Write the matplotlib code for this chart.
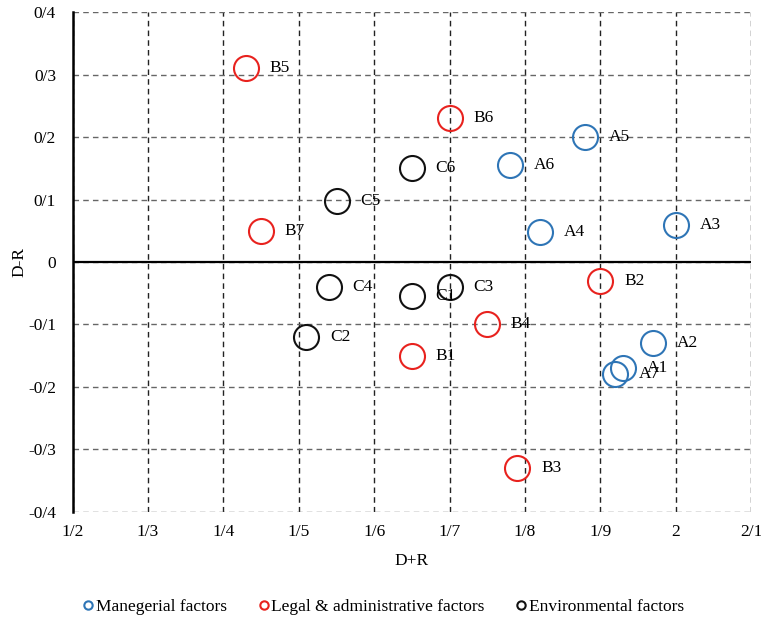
import matplotlib
matplotlib.use('Agg')
import matplotlib.pyplot as plt
from matplotlib.ticker import FuncFormatter, MultipleLocator
from matplotlib.lines import Line2D

# factor groups: (name, D+R, D-R)
mgmt_names = ['A1', 'A2', 'A3', 'A4', 'A5', 'A6', 'A7']
mgmt_x = [1.93, 1.97, 2.00, 1.82, 1.88, 1.78, 1.92]
mgmt_y = [-0.17, -0.13, 0.06, 0.048, 0.20, 0.155, -0.18]

legal_names = ['B1', 'B2', 'B3', 'B4', 'B5', 'B6', 'B7']
legal_x = [1.65, 1.90, 1.79, 1.75, 1.43, 1.70, 1.45]
legal_y = [-0.15, -0.03, -0.33, -0.10, 0.31, 0.23, 0.05]

env_names = ['C1', 'C2', 'C3', 'C4', 'C5', 'C6']
env_x = [1.65, 1.51, 1.70, 1.54, 1.55, 1.65]
env_y = [-0.055, -0.12, -0.04, -0.04, 0.098, 0.15]

groups = [
    ('Manegerial factors', mgmt_names, mgmt_x, mgmt_y, '#2E75B6'),
    ('Legal & administrative factors', legal_names, legal_x, legal_y, '#E8221E'),
    ('Environmental factors', env_names, env_x, env_y, '#111111'),
]

plt.rcParams['font.family'] = ['Liberation Serif', 'DejaVu Serif']
plt.rcParams['font.size'] = 12


def slash_fmt(v, pos):
    s = '%g' % round(v, 3)
    if s == '-0':
        s = '0'
    return s.replace('.', '/')


fig = plt.figure(figsize=(7.61, 6.22), dpi=100)
ax = fig.add_axes([0.0955, 0.1773, 0.8915, 0.8029])

ax.set_xlim(1.2, 2.1)
ax.set_ylim(-0.4, 0.4)
ax.xaxis.set_major_locator(MultipleLocator(0.1))
ax.yaxis.set_major_locator(MultipleLocator(0.1))
ax.xaxis.set_major_formatter(FuncFormatter(slash_fmt))
ax.yaxis.set_major_formatter(FuncFormatter(slash_fmt))

ax.grid(True, axis='x', linestyle=(0, (4, 3)), color='#222222', linewidth=1.0)
ax.grid(True, axis='y', linestyle=(0, (4, 3)), color='#666666', linewidth=1.0)
ax.set_axisbelow(True)
for side in ['top', 'right', 'bottom']:
    ax.spines[side].set_visible(False)
ax.spines['left'].set_linewidth(1.8)
ax.spines['left'].set_zorder(3)
ax.axhline(0, color='black', linewidth=1.6, zorder=2)
ax.tick_params(length=0, labelsize=12.5)
ax.tick_params(axis='x', pad=9)
ax.tick_params(axis='y', pad=12)

for label, names, xs, ys, col in groups:
    ax.plot(xs, ys, linestyle='none', marker='o', markersize=18,
            markerfacecolor='none', markeredgecolor=col, markeredgewidth=1.5,
            zorder=4)
    for n, x, y in zip(names, xs, ys):
        ax.annotate(n, (x, y), xytext=(17, 0), textcoords='offset points',
                    ha='left', va='center', fontsize=12.5, zorder=5)

ax.set_xlabel('D+R', fontsize=12.5)
ax.set_ylabel('D-R', fontsize=12.5)
ax.xaxis.set_label_coords(0.5, -0.083)
ax.yaxis.set_label_coords(-0.067, 0.5)

handles = [Line2D([], [], linestyle='none', marker='o', markersize=6,
                  markerfacecolor='none', markeredgecolor=g[4], markeredgewidth=1.5)
           for g in groups]
fig.legend(handles, [g[0] for g in groups], loc='center', bbox_to_anchor=(0.503, 0.024),
           ncol=3, frameon=False, handletextpad=0.05, columnspacing=1.7,
           handlelength=0.8, fontsize=12.5)

fig.savefig('out.png', dpi=100)
